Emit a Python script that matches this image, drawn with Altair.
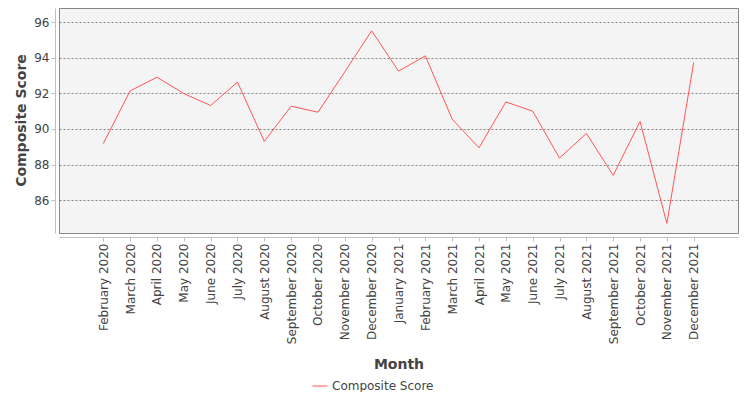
import json

import altair as alt
import pandas as pd

# values
months = [
    "February 2020", "March 2020", "April 2020", "May 2020", "June 2020",
    "July 2020", "August 2020", "September 2020", "October 2020",
    "November 2020", "December 2020", "January 2021", "February 2021",
    "March 2021", "April 2021", "May 2021", "June 2021", "July 2021",
    "August 2021", "September 2021", "October 2021", "November 2021",
    "December 2021",
]
scores = [
    89.18, 92.14, 92.91, 91.99, 91.32, 92.63, 89.30, 91.28, 90.94,
    93.21, 95.52, 93.25, 94.11, 90.55, 88.94, 91.52, 91.00, 88.36,
    89.75, 87.39, 90.42, 84.69, 93.74,
]
y_ticks = [86, 88, 90, 92, 94, 96]
series_name = "Composite Score"

df = pd.DataFrame({"idx": list(range(len(months))), "Month": months,
                   "Score": scores})

text_color = "#444444"
axis_gray = "#c0c0c0"

# month positions as numbers so the axis line and grid run the full width,
# with a category margin of about 1.65 steps on each side
n = len(months)
x_margin = 1.65
month_label = json.dumps(months) + "[datum.value]"

line = alt.Chart(df).mark_line(strokeWidth=1).encode(
    alt.X("idx:Q",
          scale=alt.Scale(domain=[-x_margin, n - 1 + x_margin], nice=False,
                          zero=False),
          axis=alt.Axis(title="Month", values=list(range(n)),
                        labelExpr=month_label, labelAngle=-90,
                        labelPadding=2, labelFlush=False, labelOverlap=False,
                        tickSize=4, offset=4, domainColor=axis_gray,
                        tickColor=axis_gray, labelFontSize=12,
                        titleFontSize=14, titleFontWeight="bold",
                        titleX=339.5, titleY=127, titleBaseline="middle",
                        grid=False)),
    alt.Y("Score:Q",
          scale=alt.Scale(domain=[84.15, 96.8], nice=False, zero=False),
          axis=alt.Axis(title="Composite Score", values=y_ticks, tickSize=4,
                        offset=4, labelPadding=2, domainColor=axis_gray,
                        tickColor=axis_gray, labelFontSize=12,
                        titleFontSize=14, titleFontWeight="bold",
                        titleX=-34, titleY=112, titleBaseline="middle",
                        grid=True, gridColor="#666666", gridDash=[2, 2],
                        gridWidth=0.8)),
    alt.Color("series:N",
              scale=alt.Scale(domain=[series_name], range=["#ff5555"]),
              legend=alt.Legend(title=None, orient="none", legendX=253,
                                legendY=370, symbolType="stroke",
                                symbolSize=225, symbolStrokeWidth=1,
                                labelFontSize=12, labelColor=text_color,
                                labelOffset=4)),
).transform_calculate(
    series="'" + series_name + "'"
)

chart = line.properties(
    width=679,
    height=225,
    autosize=alt.AutoSizeParams(type="none"),
    padding={"left": 51, "top": 0, "right": 4, "bottom": 159},
).configure(
    font="DejaVu Sans",
).configure_view(
    fill="#f4f4f4",
    stroke="#888888",
    strokeWidth=1,
).configure_axis(
    labelColor=text_color,
    titleColor=text_color,
    labelFont="DejaVu Sans",
    titleFont="DejaVu Sans",
)

chart.save("out.html", embed_options={"renderer": "svg", "actions": False})
